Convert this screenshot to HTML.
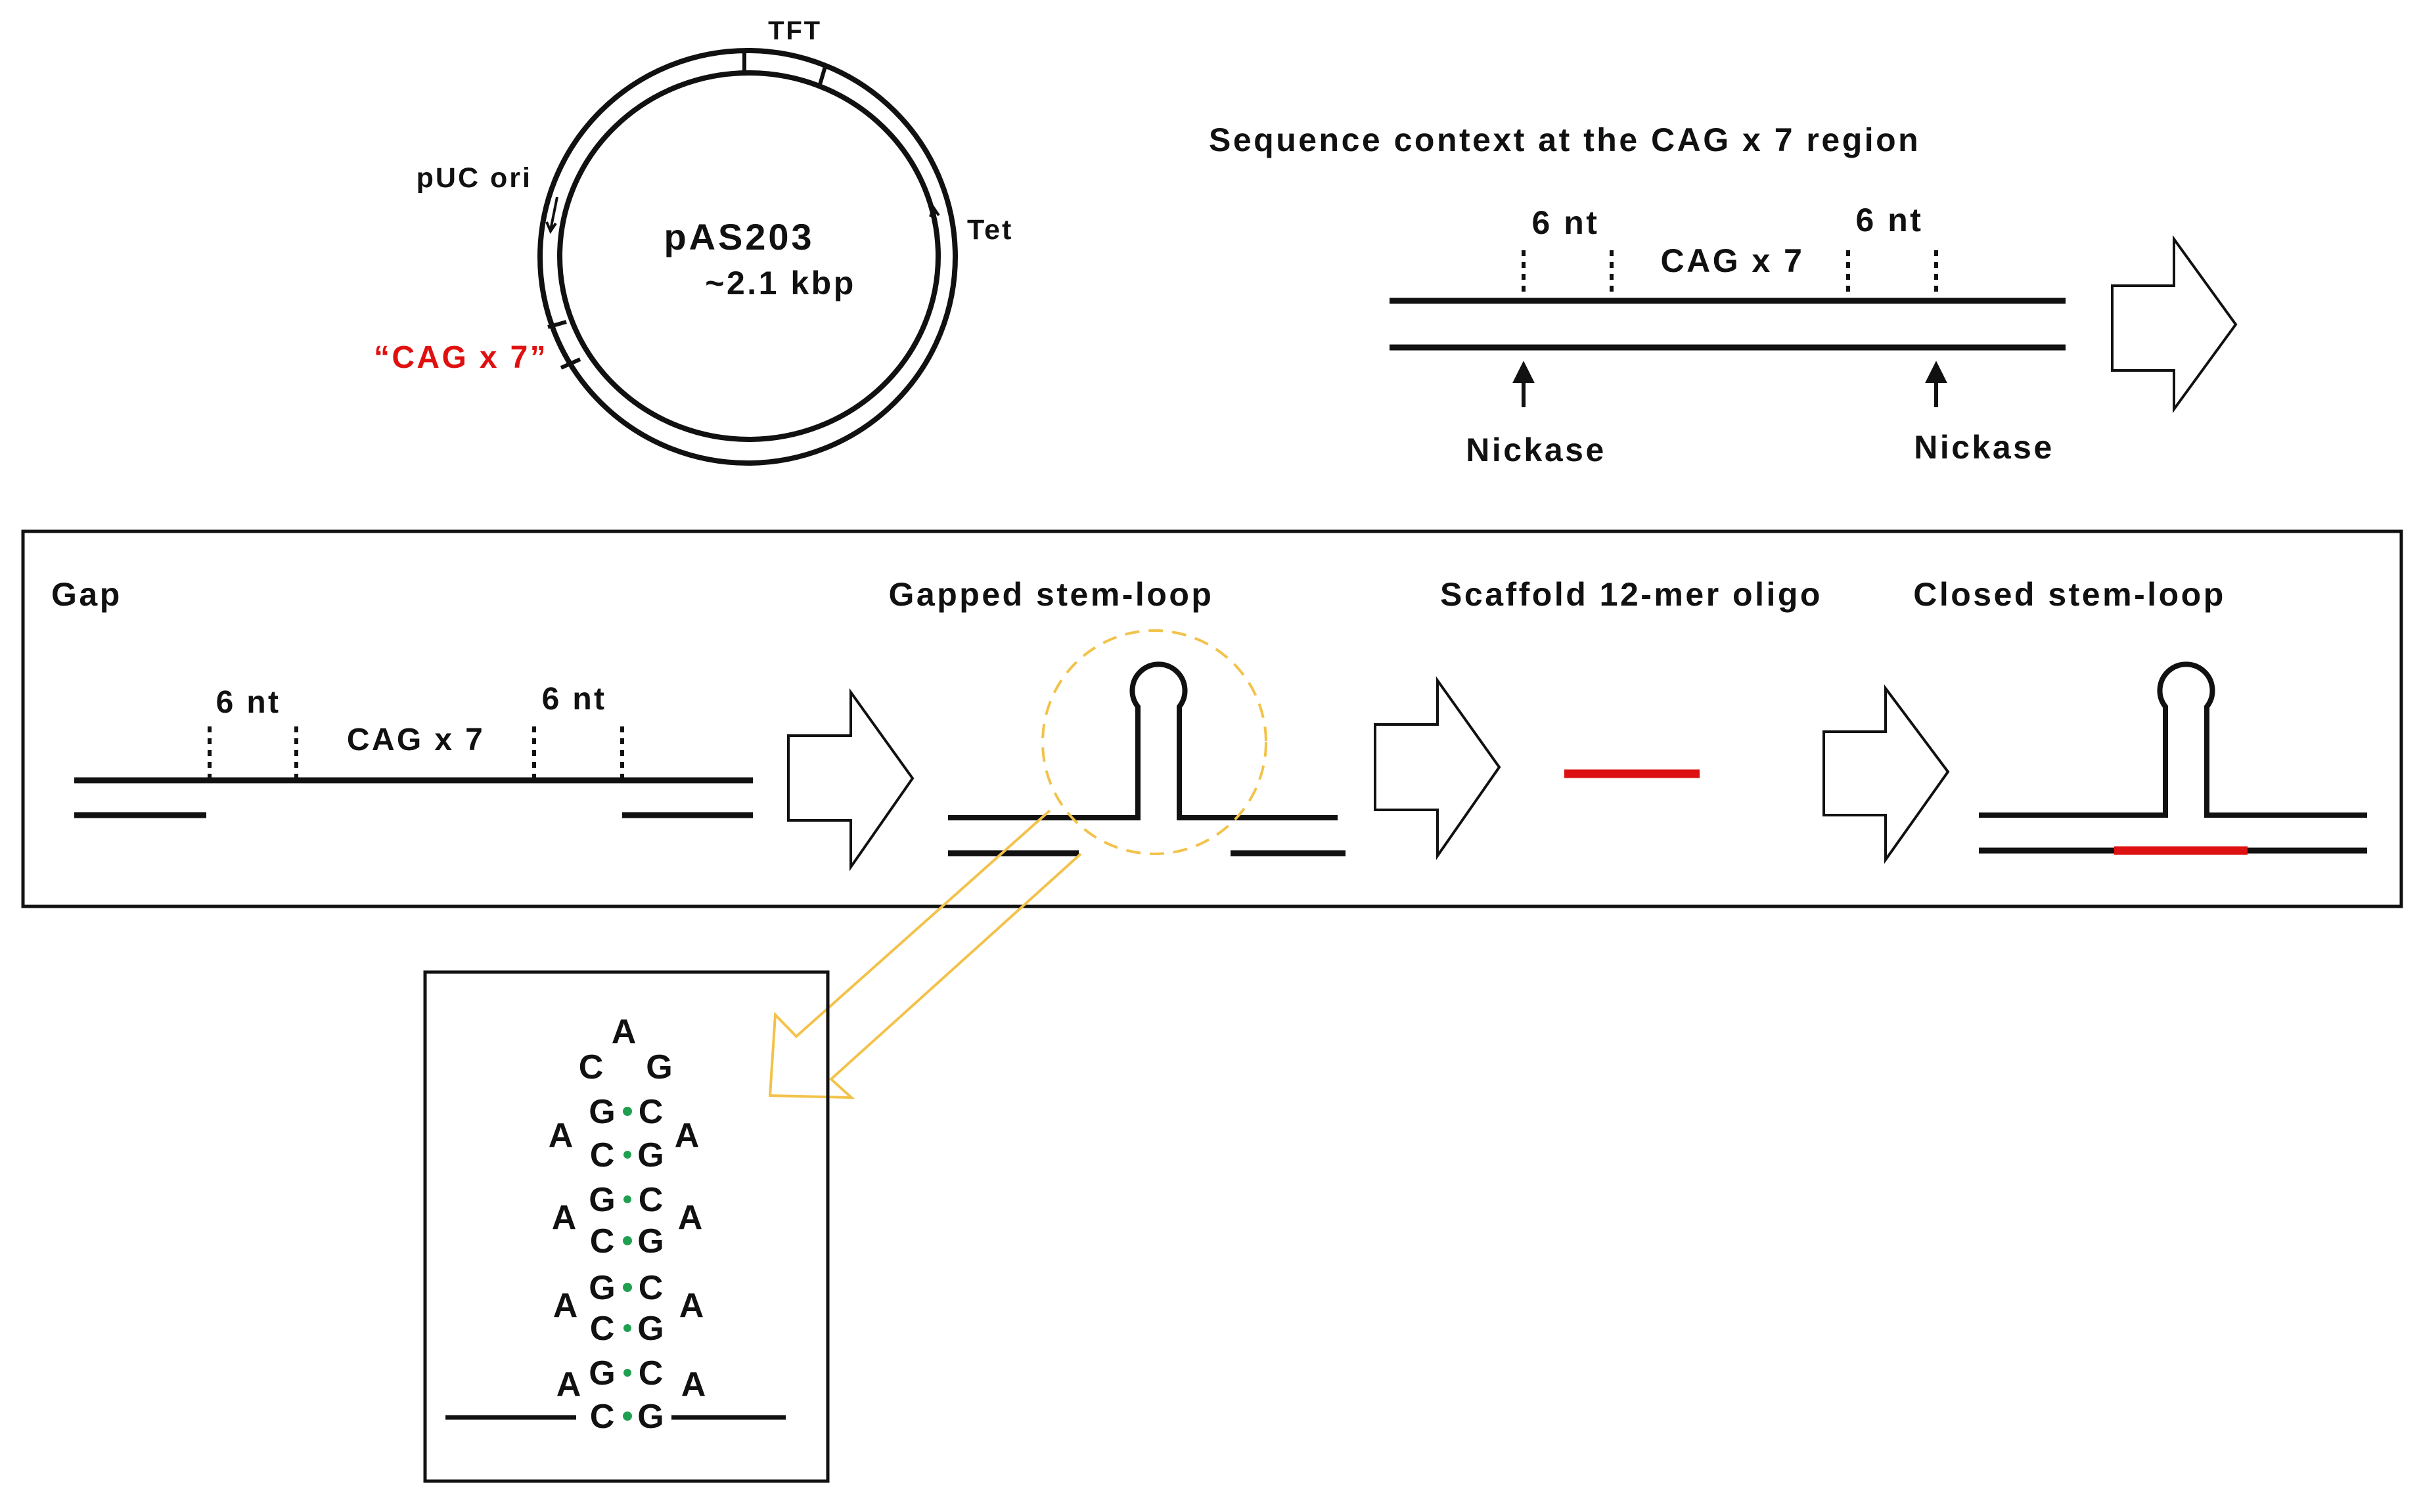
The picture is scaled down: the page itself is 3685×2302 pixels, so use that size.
<!DOCTYPE html>
<html><head><meta charset="utf-8"><style>
html,body{margin:0;padding:0;background:#fff;}
svg{display:block;}
text{font-family:"Liberation Sans",Arial,sans-serif;font-weight:bold;fill:#111;letter-spacing:0.07em;}
.nt text{letter-spacing:0.02em;}
</style></head><body>
<svg width="3685" height="2302" viewBox="0 0 3685 2302" xmlns="http://www.w3.org/2000/svg">
<!-- Plasmid -->
<ellipse cx="1138" cy="391" rx="316" ry="314" fill="none" stroke="#111" stroke-width="8"/>
<ellipse cx="1140" cy="390" rx="288" ry="279" fill="none" stroke="#111" stroke-width="8"/>
<line x1="1133" y1="76" x2="1133" y2="112" stroke="#111" stroke-width="6"/>
<line x1="1257" y1="98" x2="1247" y2="132" stroke="#111" stroke-width="6"/>
<line x1="834" y1="498" x2="862" y2="490" stroke="#111" stroke-width="6"/>
<line x1="854" y1="560" x2="883" y2="547" stroke="#111" stroke-width="6"/>
<path d="M848 300 L838 350 M832 338 L838 352 L846 340" fill="none" stroke="#111" stroke-width="4"/>
<path d="M1428 395 L1422 318 M1416 330 L1421 316 L1429 328" fill="none" stroke="#111" stroke-width="4"/>
<text x="1210" y="60" font-size="40" text-anchor="middle">TFT</text>
<text x="810" y="285" font-size="43" text-anchor="end">pUC ori</text>
<text x="1472" y="364" font-size="43">Tet</text>
<text x="1125" y="380" font-size="56" text-anchor="middle">pAS203</text>
<text x="1188" y="448" font-size="50" text-anchor="middle">~2.1 kbp</text>
<text x="834" y="560" font-size="48" text-anchor="end" style="fill:#e01010">“CAG x 7”</text>

<!-- Sequence context -->
<text x="1840" y="230" font-size="50">Sequence context at the CAG x 7 region</text>
<text x="2383" y="356" font-size="50" text-anchor="middle">6 nt</text>
<text x="2876" y="352" font-size="50" text-anchor="middle">6 nt</text>
<text x="2637" y="414" font-size="50" text-anchor="middle">CAG x 7</text>
<g stroke="#111" stroke-width="6" stroke-dasharray="9,9">
<line x1="2319" y1="381" x2="2319" y2="452"/><line x1="2453" y1="381" x2="2453" y2="452"/>
<line x1="2813" y1="381" x2="2813" y2="452"/><line x1="2947" y1="381" x2="2947" y2="452"/>
</g>
<line x1="2115" y1="458" x2="3144" y2="458" stroke="#111" stroke-width="9"/>
<line x1="2115" y1="529" x2="3144" y2="529" stroke="#111" stroke-width="9"/>
<g stroke="#111" stroke-width="6" fill="#111">
<line x1="2319" y1="620" x2="2319" y2="575"/><polygon points="2307,580 2331,580 2319,556"/>
<line x1="2947" y1="620" x2="2947" y2="575"/><polygon points="2935,580 2959,580 2947,556"/>
</g>
<text x="2338" y="702" font-size="50" text-anchor="middle">Nickase</text>
<text x="3020" y="698" font-size="50" text-anchor="middle">Nickase</text>
<polygon points="3215,435 3309,435 3309,364 3403,494 3309,623 3309,564 3215,564" fill="#fff" stroke="#111" stroke-width="4"/>

<!-- Main box -->
<rect x="35" y="809" width="3620" height="571" fill="none" stroke="#111" stroke-width="5"/>
<text x="78" y="922" font-size="50">Gap</text>
<text x="1600" y="922" font-size="50" text-anchor="middle">Gapped stem-loop</text>
<text x="2483" y="922" font-size="50" text-anchor="middle">Scaffold 12-mer oligo</text>
<text x="3150" y="922" font-size="50" text-anchor="middle">Closed stem-loop</text>

<text x="378" y="1085" font-size="48" text-anchor="middle">6 nt</text>
<text x="874" y="1080" font-size="48" text-anchor="middle">6 nt</text>
<text x="633" y="1142" font-size="48" text-anchor="middle">CAG x 7</text>
<g stroke="#111" stroke-width="6" stroke-dasharray="9,9">
<line x1="319" y1="1106" x2="319" y2="1185"/><line x1="451" y1="1106" x2="451" y2="1185"/>
<line x1="813" y1="1106" x2="813" y2="1185"/><line x1="947" y1="1106" x2="947" y2="1185"/>
</g>
<line x1="113" y1="1188" x2="1146" y2="1188" stroke="#111" stroke-width="9"/>
<line x1="113" y1="1241" x2="314" y2="1241" stroke="#111" stroke-width="9"/>
<line x1="947" y1="1241" x2="1146" y2="1241" stroke="#111" stroke-width="9"/>
<polygon points="1200,1120 1295,1120 1295,1054 1389,1185 1295,1320 1295,1249 1200,1249" fill="#fff" stroke="#111" stroke-width="4"/>

<!-- gapped stem-loop -->
<path d="M1443 1245 L1732 1245 L1732 1076 A40 40 0 1 1 1795 1076 L1795 1245 L2036 1245" fill="none" stroke="#111" stroke-width="8"/>
<line x1="1443" y1="1299" x2="1642" y2="1299" stroke="#111" stroke-width="9"/>
<line x1="1873" y1="1299" x2="2048" y2="1299" stroke="#111" stroke-width="9"/>
<circle cx="1757" cy="1130" r="170" fill="none" stroke="#f2c24a" stroke-width="4" stroke-dasharray="22,14"/>

<polygon points="2093,1103 2188,1103 2188,1036 2282,1168 2188,1303 2188,1233 2093,1233" fill="#fff" stroke="#111" stroke-width="4"/>
<line x1="2381" y1="1178" x2="2587" y2="1178" stroke="#dd1111" stroke-width="13"/>
<polygon points="2776,1114 2870,1114 2870,1048 2965,1175 2870,1309 2870,1241 2776,1241" fill="#fff" stroke="#111" stroke-width="4"/>

<!-- closed stem-loop -->
<path d="M3012 1241 L3296 1241 L3296 1076 A40 40 0 1 1 3359 1076 L3359 1241 L3603 1241" fill="none" stroke="#111" stroke-width="8"/>
<line x1="3012" y1="1295" x2="3603" y2="1295" stroke="#111" stroke-width="9"/>
<line x1="3218" y1="1295" x2="3421" y2="1295" stroke="#dd1111" stroke-width="13"/>

<!-- yellow arrow -->
<path d="M1598 1234 L1212 1578 L1180 1545 L1172 1668 L1296 1671 L1265 1643 L1645 1300" fill="none" stroke="#f2c24a" stroke-width="4" stroke-linejoin="miter"/>

<!-- inset -->
<rect x="647" y="1480" width="613" height="775" fill="none" stroke="#111" stroke-width="5"/>
<g font-size="52" text-anchor="middle" class="nt">
<text x="950" y="1588">A</text>
<text x="900" y="1642">C</text><text x="1004" y="1642">G</text>
<text x="917" y="1710">G</text><text x="991" y="1710">C</text>
<text x="917" y="1776">C</text><text x="991" y="1776">G</text>
<text x="917" y="1844">G</text><text x="991" y="1844">C</text>
<text x="917" y="1907">C</text><text x="991" y="1907">G</text>
<text x="917" y="1978">G</text><text x="991" y="1978">C</text>
<text x="917" y="2040">C</text><text x="991" y="2040">G</text>
<text x="917" y="2108">G</text><text x="991" y="2108">C</text>
<text x="917" y="2174">C</text><text x="991" y="2174">G</text>
<text x="854" y="1746">A</text><text x="1046" y="1746">A</text>
<text x="859" y="1871">A</text><text x="1051" y="1871">A</text>
<text x="861" y="2005">A</text><text x="1053" y="2005">A</text>
<text x="866" y="2125">A</text><text x="1056" y="2125">A</text>
</g>
<g fill="#1fa050">
<circle cx="955" cy="1692" r="7"/><circle cx="955" cy="1758" r="6"/>
<circle cx="955" cy="1826" r="6"/><circle cx="955" cy="1889" r="7"/>
<circle cx="955" cy="1960" r="7"/><circle cx="955" cy="2022" r="6"/>
<circle cx="955" cy="2090" r="6"/><circle cx="955" cy="2156" r="7"/>
</g>
<line x1="678" y1="2158" x2="877" y2="2158" stroke="#111" stroke-width="7"/>
<line x1="1022" y1="2158" x2="1196" y2="2158" stroke="#111" stroke-width="7"/>
</svg>
</body></html>
